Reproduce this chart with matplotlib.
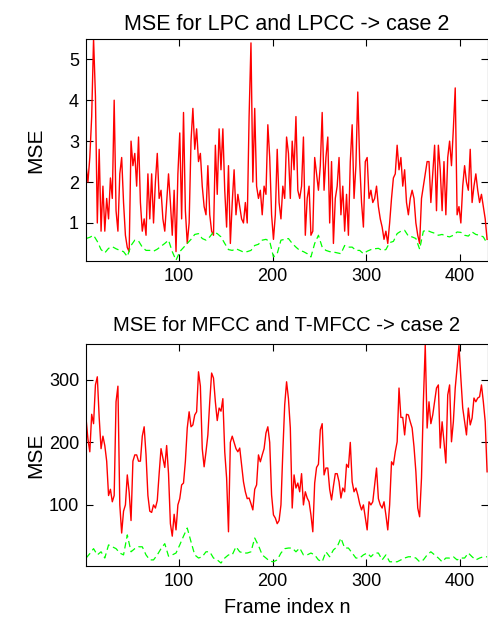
import numpy as np
import matplotlib
matplotlib.use('Agg')
import matplotlib.pyplot as plt

plt.rcParams['font.family'] = ['Liberation Sans', 'DejaVu Sans']

# frame indices (red read every 2 frames, green every 4)
frames_red = np.arange(1, 430, 2)
frames_green = np.arange(1, 430, 4)

# MSE for LPC and LPCC
lpc_red = [2.4, 2.0, 2.6, 3.6, 5.5, 4.1, 1.0, 2.8, 0.8, 1.9,
           0.8, 1.6, 1.1, 2.1, 1.6, 4.0, 1.3, 0.8, 2.2, 2.6,
           1.5, 0.7, 0.4, 0.3, 3.0, 2.4, 2.7, 1.9, 3.1, 1.5,
           0.8, 1.1, 0.7, 2.2, 1.1, 2.2, 1.0, 2.0, 2.7, 1.6,
           1.8, 1.1, 0.8, 1.5, 2.2, 1.5, 0.7, 1.8, 0.3, 2.2,
           3.2, 1.1, 3.7, 1.3, 0.5, 1.0, 3.0, 3.8, 2.8, 3.3,
           2.5, 2.7, 1.9, 1.4, 1.2, 2.4, 1.2, 0.8, 0.7, 2.9,
           1.7, 3.3, 2.3, 3.3, 1.8, 0.9, 2.4, 0.5, 1.5, 2.3,
           1.2, 1.7, 1.4, 1.1, 1.0, 1.5, 1.0, 3.6, 5.4, 2.0,
           3.8, 1.9, 1.6, 1.8, 1.2, 1.9, 1.7, 3.4, 2.6, 1.2,
           0.6, 1.2, 2.8, 1.5, 1.1, 1.9, 1.6, 3.1, 2.7, 1.6,
           3.0, 2.3, 3.6, 1.8, 1.6, 1.9, 3.1, 0.7, 1.6, 1.9,
           0.7, 0.8, 2.6, 2.2, 1.8, 2.4, 3.7, 1.8, 2.6, 3.1,
           1.0, 2.5, 0.5, 1.6, 1.9, 2.6, 1.2, 1.9, 0.8, 1.7,
           0.7, 2.5, 3.4, 1.6, 2.4, 4.2, 2.5, 1.5, 0.9, 2.5,
           2.6, 1.6, 1.8, 1.5, 1.6, 1.9, 1.4, 1.1, 0.9, 0.6,
           0.8, 0.5, 1.0, 1.6, 2.1, 2.2, 2.9, 2.3, 2.6, 1.9,
           2.3, 1.5, 1.2, 1.6, 1.8, 1.6, 1.0, 0.7, 0.5, 1.6,
           1.9, 2.2, 2.5, 2.5, 1.5, 2.2, 2.9, 1.3, 2.9, 2.3,
           1.3, 2.5, 1.2, 2.6, 3.0, 2.4, 3.3, 4.3, 1.2, 1.4,
           1.0, 1.9, 2.4, 2.0, 1.8, 2.8, 1.5, 1.9, 2.2, 1.8,
           1.5, 1.7, 1.4, 1.1, 0.6]
lpc_green = [0.62, 0.65, 0.70, 0.55, 0.35, 0.27, 0.38, 0.42, 0.37, 0.33,
             0.30, 0.18, 0.45, 0.58, 0.56, 0.41, 0.33, 0.33, 0.31, 0.36,
             0.43, 0.50, 0.58, 0.30, 0.09, 0.30, 0.40, 0.50, 0.60, 0.72,
             0.74, 0.62, 0.58, 0.66, 0.78, 0.74, 0.66, 0.50, 0.35, 0.33,
             0.37, 0.33, 0.29, 0.30, 0.33, 0.45, 0.48, 0.58, 0.60, 0.55,
             0.17, 0.25, 0.58, 0.60, 0.62, 0.50, 0.41, 0.33, 0.30, 0.25,
             0.17, 0.50, 0.70, 0.41, 0.33, 0.30, 0.29, 0.27, 0.25, 0.45,
             0.41, 0.41, 0.33, 0.33, 0.25, 0.31, 0.35, 0.37, 0.38, 0.33,
             0.35, 0.52, 0.55, 0.74, 0.80, 0.82, 0.68, 0.66, 0.62, 0.36,
             0.80, 0.82, 0.78, 0.75, 0.70, 0.72, 0.68, 0.66, 0.70, 0.78,
             0.77, 0.70, 0.68, 0.78, 0.72, 0.70, 0.66, 0.50]

# MSE for MFCC and T-MFCC
mfcc_red = [238, 205, 185, 245, 230, 292, 305, 240, 190, 210,
            195, 170, 115, 125, 105, 115, 265, 290, 100, 55,
            90, 100, 148, 120, 75, 170, 180, 180, 170, 170,
            210, 225, 180, 115, 90, 88, 100, 95, 107, 150,
            190, 175, 160, 195, 150, 70, 50, 85, 60, 100,
            110, 132, 135, 170, 223, 249, 225, 228, 244, 249,
            313, 290, 190, 161, 185, 212, 265, 311, 303, 265,
            235, 255, 250, 270, 185, 143, 57, 200, 210, 200,
            190, 185, 191, 164, 137, 121, 110, 111, 102, 92,
            125, 132, 180, 169, 180, 190, 215, 225, 200, 116,
            84, 79, 70, 75, 100, 185, 260, 297, 270, 223,
            95, 148, 127, 135, 121, 150, 100, 121, 111, 105,
            84, 57, 135, 160, 165, 220, 230, 148, 159, 159,
            125, 108, 130, 150, 150, 137, 111, 127, 121, 165,
            160, 200, 137, 121, 127, 116, 102, 92, 100, 80,
            60, 105, 100, 105, 132, 159, 110, 100, 95, 105,
            84, 60, 100, 169, 164, 185, 201, 287, 240, 240,
            212, 245, 244, 233, 223, 193, 153, 95, 81, 143,
            265, 356, 223, 265, 230, 244, 265, 287, 292, 191,
            233, 201, 167, 276, 292, 201, 233, 287, 320, 355,
            303, 255, 233, 212, 255, 228, 239, 271, 265, 271,
            273, 292, 265, 233, 153]
mfcc_green = [15, 22, 30, 20, 25, 15, 36, 33, 30, 23,
              20, 52, 25, 30, 33, 33, 20, 12, 12, 20,
              30, 38, 18, 20, 23, 36, 50, 63, 41, 20,
              15, 17, 25, 25, 15, 12, 7, 15, 20, 20,
              33, 25, 23, 23, 25, 47, 35, 20, 15, 10,
              9, 12, 23, 30, 31, 31, 25, 31, 20, 20,
              23, 20, 12, 9, 25, 17, 28, 33, 47, 31,
              31, 23, 15, 15, 20, 23, 17, 23, 23, 12,
              20, 9, 9, 9, 12, 15, 17, 17, 15, 9,
              12, 20, 25, 20, 15, 9, 15, 15, 17, 12,
              15, 15, 23, 17, 12, 15, 17, 17]

fig = plt.figure(figsize=(4.89, 6.26), dpi=100)
ax1 = fig.add_axes([0.176, 0.583, 0.822, 0.355])
ax2 = fig.add_axes([0.176, 0.096, 0.822, 0.355])

def style(ax):
    ax.tick_params(direction='in', top=True, right=True, length=5, labelsize=13, width=0.8, pad=5)
    for s in ax.spines.values():
        s.set_linewidth(0.8)

ax1.plot(frames_red, lpc_red, color='red', lw=1.0)
ax1.plot(frames_green, lpc_green, color=(0, 1, 0), lw=0.9, dashes=(5, 3))
ax1.set_xlim(1, 430)
ax1.set_ylim(0.07, 5.5)
ax1.set_xticks([100, 200, 300, 400])
ax1.set_yticks([1, 2, 3, 4, 5])
ax1.set_title('MSE for LPC and LPCC -> case 2', fontsize=15.5, pad=6)
ax1.set_ylabel('MSE', fontsize=15)
ax1.yaxis.set_label_coords(-0.102, 0.5)
style(ax1)

ax2.plot(frames_red, mfcc_red, color='red', lw=1.0)
ax2.plot(frames_green, mfcc_green, color=(0, 1, 0), lw=0.9, dashes=(5, 3))
ax2.set_xlim(1, 430)
ax2.set_ylim(2.4, 358)
ax2.set_xticks([100, 200, 300, 400])
ax2.set_yticks([100, 200, 300])
ax2.set_title('MSE for MFCC and T-MFCC -> case 2', fontsize=14.6, pad=9)
ax2.set_ylabel('MSE', fontsize=15)
ax2.yaxis.set_label_coords(-0.102, 0.5)
ax2.set_xlabel('Frame index n', fontsize=14.2, labelpad=6)
style(ax2)

fig.savefig('out.png', dpi=100)
